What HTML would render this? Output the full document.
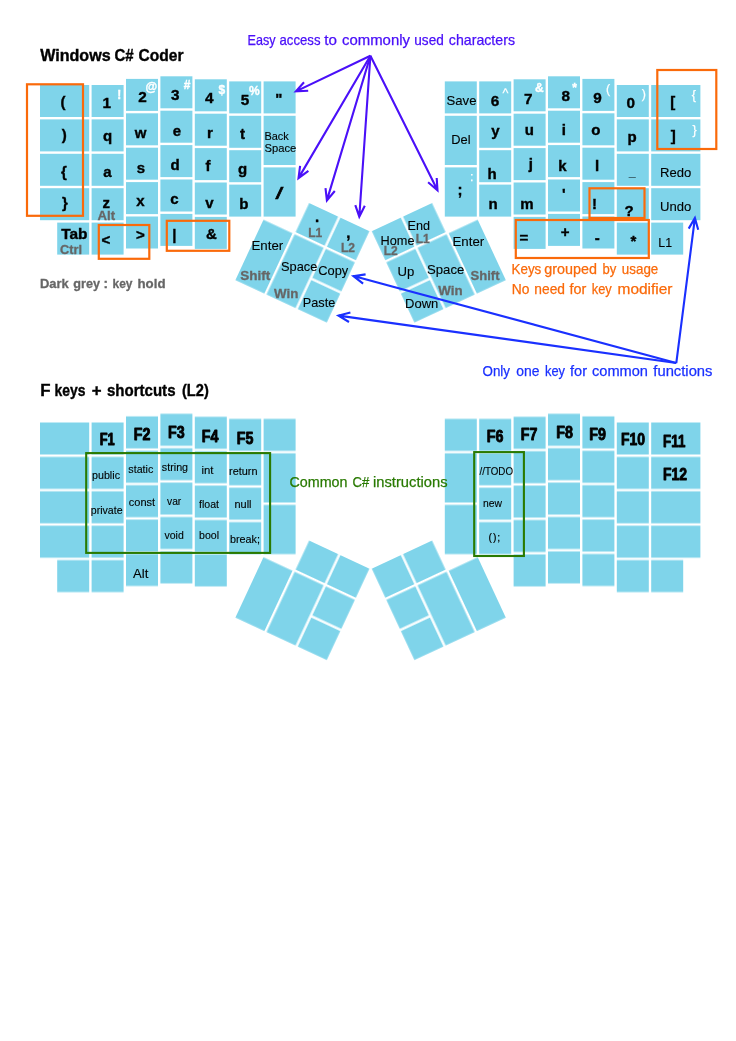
<!DOCTYPE html>
<html lang="en"><head><meta charset="utf-8"><title>Windows C# Coder keyboard layout</title>
<style>
html,body{margin:0;padding:0;background:#fff}
body{width:736px;height:1041px;overflow:hidden}
svg{display:block}
svg text{font-family:"Liberation Sans",sans-serif}
</style></head><body>
<svg width="736" height="1041" viewBox="0 0 736 1041">
<rect width="736" height="1041" fill="#fff"/>
<g opacity="0.999">
<g fill="#7fd4ea" transform="translate(0,0)">
<rect x="40.00" y="85.00" width="49.20" height="32.00"/>
<rect x="40.00" y="119.40" width="49.20" height="32.00"/>
<rect x="40.00" y="153.80" width="49.20" height="32.00"/>
<rect x="40.00" y="188.20" width="49.20" height="32.00"/>
<rect x="57.20" y="222.60" width="32.00" height="32.00"/>
<rect x="91.60" y="85.00" width="32.00" height="32.00"/>
<rect x="91.60" y="119.40" width="32.00" height="32.00"/>
<rect x="91.60" y="153.80" width="32.00" height="32.00"/>
<rect x="91.60" y="188.20" width="32.00" height="32.00"/>
<rect x="91.60" y="222.60" width="32.00" height="32.00"/>
<rect x="126.00" y="78.90" width="32.00" height="32.00"/>
<rect x="126.00" y="113.30" width="32.00" height="32.00"/>
<rect x="126.00" y="147.70" width="32.00" height="32.00"/>
<rect x="126.00" y="182.10" width="32.00" height="32.00"/>
<rect x="126.00" y="216.50" width="32.00" height="32.00"/>
<rect x="160.40" y="76.30" width="32.00" height="32.00"/>
<rect x="160.40" y="110.70" width="32.00" height="32.00"/>
<rect x="160.40" y="145.10" width="32.00" height="32.00"/>
<rect x="160.40" y="179.50" width="32.00" height="32.00"/>
<rect x="160.40" y="213.90" width="32.00" height="32.00"/>
<rect x="194.80" y="79.30" width="32.00" height="32.00"/>
<rect x="194.80" y="113.70" width="32.00" height="32.00"/>
<rect x="194.80" y="148.10" width="32.00" height="32.00"/>
<rect x="194.80" y="182.50" width="32.00" height="32.00"/>
<rect x="194.80" y="216.90" width="32.00" height="32.00"/>
<rect x="229.20" y="81.40" width="32.00" height="32.00"/>
<rect x="229.20" y="115.80" width="32.00" height="32.00"/>
<rect x="229.20" y="150.20" width="32.00" height="32.00"/>
<rect x="229.20" y="184.60" width="32.00" height="32.00"/>
<rect x="263.60" y="81.40" width="32.00" height="32.00"/>
<rect x="263.60" y="115.80" width="32.00" height="49.20"/>
<rect x="263.60" y="167.40" width="32.00" height="49.20"/>
<g transform="translate(278.0,188.6) rotate(25)">
<rect x="34.40" y="0.00" width="32.00" height="32.00"/>
<rect x="68.80" y="0.00" width="32.00" height="32.00"/>
<rect x="0.00" y="34.40" width="32.00" height="66.40"/>
<rect x="34.40" y="34.40" width="32.00" height="66.40"/>
<rect x="68.80" y="34.40" width="32.00" height="32.00"/>
<rect x="68.80" y="68.80" width="32.00" height="32.00"/>
</g>
<rect x="651.20" y="85.00" width="49.20" height="32.00"/>
<rect x="651.20" y="119.40" width="49.20" height="32.00"/>
<rect x="651.20" y="153.80" width="49.20" height="32.00"/>
<rect x="651.20" y="188.20" width="49.20" height="32.00"/>
<rect x="651.20" y="222.60" width="32.00" height="32.00"/>
<rect x="616.80" y="85.00" width="32.00" height="32.00"/>
<rect x="616.80" y="119.40" width="32.00" height="32.00"/>
<rect x="616.80" y="153.80" width="32.00" height="32.00"/>
<rect x="616.80" y="188.20" width="32.00" height="32.00"/>
<rect x="616.80" y="222.60" width="32.00" height="32.00"/>
<rect x="582.40" y="78.90" width="32.00" height="32.00"/>
<rect x="582.40" y="113.30" width="32.00" height="32.00"/>
<rect x="582.40" y="147.70" width="32.00" height="32.00"/>
<rect x="582.40" y="182.10" width="32.00" height="32.00"/>
<rect x="582.40" y="216.50" width="32.00" height="32.00"/>
<rect x="548.00" y="76.30" width="32.00" height="32.00"/>
<rect x="548.00" y="110.70" width="32.00" height="32.00"/>
<rect x="548.00" y="145.10" width="32.00" height="32.00"/>
<rect x="548.00" y="179.50" width="32.00" height="32.00"/>
<rect x="548.00" y="213.90" width="32.00" height="32.00"/>
<rect x="513.60" y="79.30" width="32.00" height="32.00"/>
<rect x="513.60" y="113.70" width="32.00" height="32.00"/>
<rect x="513.60" y="148.10" width="32.00" height="32.00"/>
<rect x="513.60" y="182.50" width="32.00" height="32.00"/>
<rect x="513.60" y="216.90" width="32.00" height="32.00"/>
<rect x="479.20" y="81.40" width="32.00" height="32.00"/>
<rect x="479.20" y="115.80" width="32.00" height="32.00"/>
<rect x="479.20" y="150.20" width="32.00" height="32.00"/>
<rect x="479.20" y="184.60" width="32.00" height="32.00"/>
<rect x="444.80" y="81.40" width="32.00" height="32.00"/>
<rect x="444.80" y="115.80" width="32.00" height="49.20"/>
<rect x="444.80" y="167.40" width="32.00" height="49.20"/>
<g transform="translate(463.20,188.6) rotate(-25) scale(-1,1)">
<rect x="34.40" y="0.00" width="32.00" height="32.00"/>
<rect x="68.80" y="0.00" width="32.00" height="32.00"/>
<rect x="0.00" y="34.40" width="32.00" height="66.40"/>
<rect x="34.40" y="34.40" width="32.00" height="66.40"/>
<rect x="68.80" y="34.40" width="32.00" height="32.00"/>
<rect x="68.80" y="68.80" width="32.00" height="32.00"/>
</g>
</g>
<g fill="#7fd4ea" transform="translate(0,337.5)">
<rect x="40.00" y="85.00" width="49.20" height="32.00"/>
<rect x="40.00" y="119.40" width="49.20" height="32.00"/>
<rect x="40.00" y="153.80" width="49.20" height="32.00"/>
<rect x="40.00" y="188.20" width="49.20" height="32.00"/>
<rect x="57.20" y="222.60" width="32.00" height="32.00"/>
<rect x="91.60" y="85.00" width="32.00" height="32.00"/>
<rect x="91.60" y="119.40" width="32.00" height="32.00"/>
<rect x="91.60" y="153.80" width="32.00" height="32.00"/>
<rect x="91.60" y="188.20" width="32.00" height="32.00"/>
<rect x="91.60" y="222.60" width="32.00" height="32.00"/>
<rect x="126.00" y="78.90" width="32.00" height="32.00"/>
<rect x="126.00" y="113.30" width="32.00" height="32.00"/>
<rect x="126.00" y="147.70" width="32.00" height="32.00"/>
<rect x="126.00" y="182.10" width="32.00" height="32.00"/>
<rect x="126.00" y="216.50" width="32.00" height="32.00"/>
<rect x="160.40" y="76.30" width="32.00" height="32.00"/>
<rect x="160.40" y="110.70" width="32.00" height="32.00"/>
<rect x="160.40" y="145.10" width="32.00" height="32.00"/>
<rect x="160.40" y="179.50" width="32.00" height="32.00"/>
<rect x="160.40" y="213.90" width="32.00" height="32.00"/>
<rect x="194.80" y="79.30" width="32.00" height="32.00"/>
<rect x="194.80" y="113.70" width="32.00" height="32.00"/>
<rect x="194.80" y="148.10" width="32.00" height="32.00"/>
<rect x="194.80" y="182.50" width="32.00" height="32.00"/>
<rect x="194.80" y="216.90" width="32.00" height="32.00"/>
<rect x="229.20" y="81.40" width="32.00" height="32.00"/>
<rect x="229.20" y="115.80" width="32.00" height="32.00"/>
<rect x="229.20" y="150.20" width="32.00" height="32.00"/>
<rect x="229.20" y="184.60" width="32.00" height="32.00"/>
<rect x="263.60" y="81.40" width="32.00" height="32.00"/>
<rect x="263.60" y="115.80" width="32.00" height="49.20"/>
<rect x="263.60" y="167.40" width="32.00" height="49.20"/>
<g transform="translate(278.0,188.6) rotate(25)">
<rect x="34.40" y="0.00" width="32.00" height="32.00"/>
<rect x="68.80" y="0.00" width="32.00" height="32.00"/>
<rect x="0.00" y="34.40" width="32.00" height="66.40"/>
<rect x="34.40" y="34.40" width="32.00" height="66.40"/>
<rect x="68.80" y="34.40" width="32.00" height="32.00"/>
<rect x="68.80" y="68.80" width="32.00" height="32.00"/>
</g>
<rect x="651.20" y="85.00" width="49.20" height="32.00"/>
<rect x="651.20" y="119.40" width="49.20" height="32.00"/>
<rect x="651.20" y="153.80" width="49.20" height="32.00"/>
<rect x="651.20" y="188.20" width="49.20" height="32.00"/>
<rect x="651.20" y="222.60" width="32.00" height="32.00"/>
<rect x="616.80" y="85.00" width="32.00" height="32.00"/>
<rect x="616.80" y="119.40" width="32.00" height="32.00"/>
<rect x="616.80" y="153.80" width="32.00" height="32.00"/>
<rect x="616.80" y="188.20" width="32.00" height="32.00"/>
<rect x="616.80" y="222.60" width="32.00" height="32.00"/>
<rect x="582.40" y="78.90" width="32.00" height="32.00"/>
<rect x="582.40" y="113.30" width="32.00" height="32.00"/>
<rect x="582.40" y="147.70" width="32.00" height="32.00"/>
<rect x="582.40" y="182.10" width="32.00" height="32.00"/>
<rect x="582.40" y="216.50" width="32.00" height="32.00"/>
<rect x="548.00" y="76.30" width="32.00" height="32.00"/>
<rect x="548.00" y="110.70" width="32.00" height="32.00"/>
<rect x="548.00" y="145.10" width="32.00" height="32.00"/>
<rect x="548.00" y="179.50" width="32.00" height="32.00"/>
<rect x="548.00" y="213.90" width="32.00" height="32.00"/>
<rect x="513.60" y="79.30" width="32.00" height="32.00"/>
<rect x="513.60" y="113.70" width="32.00" height="32.00"/>
<rect x="513.60" y="148.10" width="32.00" height="32.00"/>
<rect x="513.60" y="182.50" width="32.00" height="32.00"/>
<rect x="513.60" y="216.90" width="32.00" height="32.00"/>
<rect x="479.20" y="81.40" width="32.00" height="32.00"/>
<rect x="479.20" y="115.80" width="32.00" height="32.00"/>
<rect x="479.20" y="150.20" width="32.00" height="32.00"/>
<rect x="479.20" y="184.60" width="32.00" height="32.00"/>
<rect x="444.80" y="81.40" width="32.00" height="32.00"/>
<rect x="444.80" y="115.80" width="32.00" height="49.20"/>
<rect x="444.80" y="167.40" width="32.00" height="49.20"/>
<g transform="translate(463.20,188.6) rotate(-25) scale(-1,1)">
<rect x="34.40" y="0.00" width="32.00" height="32.00"/>
<rect x="68.80" y="0.00" width="32.00" height="32.00"/>
<rect x="0.00" y="34.40" width="32.00" height="66.40"/>
<rect x="34.40" y="34.40" width="32.00" height="66.40"/>
<rect x="68.80" y="34.40" width="32.00" height="32.00"/>
<rect x="68.80" y="68.80" width="32.00" height="32.00"/>
</g>
</g>
<text y="60.6" font-size="16.8" font-weight="bold" fill="#000" stroke="#000" stroke-width="0.4"><tspan x="40.2" textLength="70.4" lengthAdjust="spacingAndGlyphs">Windows</tspan> <tspan x="114.4" textLength="19.2" lengthAdjust="spacingAndGlyphs">C#</tspan> <tspan x="138.6" textLength="45.0" lengthAdjust="spacingAndGlyphs">Coder</tspan></text>
<text y="395.6" font-size="16.8" font-weight="bold" fill="#000" stroke="#000" stroke-width="0.4"><tspan x="40.3">F</tspan> <tspan x="54.5" textLength="31.0" lengthAdjust="spacingAndGlyphs">keys</tspan> <tspan x="91.8">+</tspan> <tspan x="107.0" textLength="68.5" lengthAdjust="spacingAndGlyphs">shortcuts</tspan> <tspan x="182.0" textLength="26.8" lengthAdjust="spacingAndGlyphs">(L2)</tspan></text>
<text y="287.5" font-size="13.4" font-weight="bold" fill="#666666" stroke="#666666" stroke-width="0.3"><tspan x="40.0" textLength="28.8" lengthAdjust="spacingAndGlyphs">Dark</tspan> <tspan x="73.3" textLength="26.7" lengthAdjust="spacingAndGlyphs">grey</tspan> <tspan x="103.6">:</tspan> <tspan x="112.5" textLength="20.0" lengthAdjust="spacingAndGlyphs">key</tspan> <tspan x="137.5" textLength="28.0" lengthAdjust="spacingAndGlyphs">hold</tspan></text>
<text y="45.3" font-size="14.3" fill="#4a10f8" stroke="#4a10f8" stroke-width="0.25"><tspan x="247.6" textLength="28.0" lengthAdjust="spacingAndGlyphs">Easy</tspan> <tspan x="279.5" textLength="41.0" lengthAdjust="spacingAndGlyphs">access</tspan> <tspan x="324.3" textLength="12.7" lengthAdjust="spacingAndGlyphs">to</tspan> <tspan x="342.0" textLength="68.0" lengthAdjust="spacingAndGlyphs">commonly</tspan> <tspan x="414.3" textLength="29.5" lengthAdjust="spacingAndGlyphs">used</tspan> <tspan x="448.8" textLength="66.2" lengthAdjust="spacingAndGlyphs">characters</tspan></text>
<text y="274.0" font-size="14.3" fill="#fa6a0a" stroke="#fa6a0a" stroke-width="0.25"><tspan x="511.5" textLength="29.8" lengthAdjust="spacingAndGlyphs">Keys</tspan> <tspan x="544.3" textLength="52.7" lengthAdjust="spacingAndGlyphs">grouped</tspan> <tspan x="602.5" textLength="13.8" lengthAdjust="spacingAndGlyphs">by</tspan> <tspan x="621.8" textLength="36.5" lengthAdjust="spacingAndGlyphs">usage</tspan></text>
<text y="293.5" font-size="14.3" fill="#fa6a0a" stroke="#fa6a0a" stroke-width="0.25"><tspan x="511.8" textLength="17.7" lengthAdjust="spacingAndGlyphs">No</tspan> <tspan x="534.3" textLength="30.7" lengthAdjust="spacingAndGlyphs">need</tspan> <tspan x="569.5" textLength="16.8" lengthAdjust="spacingAndGlyphs">for</tspan> <tspan x="591.8" textLength="20.0" lengthAdjust="spacingAndGlyphs">key</tspan> <tspan x="617.5" textLength="55.0" lengthAdjust="spacingAndGlyphs">modifier</tspan></text>
<text y="375.6" font-size="14.3" fill="#1a30ff" stroke="#1a30ff" stroke-width="0.25"><tspan x="482.5" textLength="27.5" lengthAdjust="spacingAndGlyphs">Only</tspan> <tspan x="516.3" textLength="23.2" lengthAdjust="spacingAndGlyphs">one</tspan> <tspan x="545.0" textLength="20.0" lengthAdjust="spacingAndGlyphs">key</tspan> <tspan x="570.0" textLength="17.0" lengthAdjust="spacingAndGlyphs">for</tspan> <tspan x="592.0" textLength="56.0" lengthAdjust="spacingAndGlyphs">common</tspan> <tspan x="653.3" textLength="59.2" lengthAdjust="spacingAndGlyphs">functions</tspan></text>
<text y="486.6" font-size="14.3" fill="#2a7a00" stroke="#2a7a00" stroke-width="0.25"><tspan x="289.5" textLength="58.0" lengthAdjust="spacingAndGlyphs">Common</tspan> <tspan x="352.5" textLength="16.8" lengthAdjust="spacingAndGlyphs">C#</tspan> <tspan x="373.0" textLength="74.5" lengthAdjust="spacingAndGlyphs">instructions</tspan></text>
<g font-size="15" font-weight="bold" text-anchor="middle" stroke="#000" stroke-width="0.38">
<text x="63" y="107">(</text>
<text x="64.2" y="140">)</text>
<text x="63.8" y="176.5">{</text>
<text x="65" y="207.5">}</text>
<text x="106.8" y="107.5" font-size="15.3">1</text>
<text x="107.5" y="140.5">q</text>
<text x="107.5" y="177">a</text>
<text x="106.3" y="207.5">z</text>
<text x="105.8" y="245">&lt;</text>
<text x="142.5" y="102" font-size="15.3">2</text>
<text x="140.5" y="138">w</text>
<text x="140.8" y="172.5">s</text>
<text x="140.5" y="205.8">x</text>
<text x="140.5" y="240">&gt;</text>
<text x="175.3" y="100" font-size="15.3">3</text>
<text x="176.8" y="135.5">e</text>
<text x="175" y="169.5">d</text>
<text x="174.3" y="203.8">c</text>
<text x="174.3" y="239.5">|</text>
<text x="209.3" y="103.3" font-size="15.3">4</text>
<text x="210" y="138">r</text>
<text x="208" y="171.3">f</text>
<text x="209.3" y="207.5">v</text>
<text x="211.3" y="239.3">&amp;</text>
<text x="245" y="105" font-size="15.3">5</text>
<text x="242.5" y="138.8">t</text>
<text x="242.5" y="174.2">g</text>
<text x="243.8" y="208.8">b</text>
<text x="278.8" y="104">&quot;</text>
<text x="317" y="222">.</text>
<text x="348.3" y="238">,</text>
<text x="495" y="105.5" font-size="15.3">6</text>
<text x="495.5" y="135.8">y</text>
<text x="492" y="179.4">h</text>
<text x="493" y="208.8">n</text>
<text x="528.3" y="103.8" font-size="15.3">7</text>
<text x="529.3" y="134.5">u</text>
<text x="530.8" y="168.8">j</text>
<text x="527" y="208.8">m</text>
<text x="523.8" y="242.9">=</text>
<text x="565.8" y="101.3" font-size="15.3">8</text>
<text x="563.8" y="135">i</text>
<text x="562.5" y="170.8">k</text>
<text x="563.8" y="199">&#x27;</text>
<text x="565.2" y="237">+</text>
<text x="597.5" y="103" font-size="15.3">9</text>
<text x="595.8" y="135">o</text>
<text x="597" y="171.3">l</text>
<text x="594.4" y="209">!</text>
<text x="597.3" y="243">-</text>
<text x="630.8" y="108" font-size="15.3">0</text>
<text x="632" y="142">p</text>
<text x="629" y="216.3">?</text>
<text x="633.3" y="246">*</text>
<text x="672.8" y="107">[</text>
<text x="673.3" y="141">]</text>
<text x="460" y="195">;</text>
<text x="74.4" y="239.3" textLength="26.3" lengthAdjust="spacingAndGlyphs">Tab</text>
<text x="107.2" y="445" font-size="16" stroke-width="0.9" stroke-linejoin="round" textLength="15.0" lengthAdjust="spacingAndGlyphs">F1</text>
<text x="142" y="439.5" font-size="16" stroke-width="0.9" stroke-linejoin="round" textLength="16.6" lengthAdjust="spacingAndGlyphs">F2</text>
<text x="176.3" y="437.5" font-size="16" stroke-width="0.9" stroke-linejoin="round" textLength="16.6" lengthAdjust="spacingAndGlyphs">F3</text>
<text x="210" y="441.5" font-size="16" stroke-width="0.9" stroke-linejoin="round" textLength="16.6" lengthAdjust="spacingAndGlyphs">F4</text>
<text x="245" y="443.5" font-size="16" stroke-width="0.9" stroke-linejoin="round" textLength="16.6" lengthAdjust="spacingAndGlyphs">F5</text>
<text x="495" y="441.7" font-size="16" stroke-width="0.9" stroke-linejoin="round" textLength="16.6" lengthAdjust="spacingAndGlyphs">F6</text>
<text x="529" y="440" font-size="16" stroke-width="0.9" stroke-linejoin="round" textLength="16.6" lengthAdjust="spacingAndGlyphs">F7</text>
<text x="564.5" y="437.5" font-size="16" stroke-width="0.9" stroke-linejoin="round" textLength="16.6" lengthAdjust="spacingAndGlyphs">F8</text>
<text x="597.5" y="440" font-size="16" stroke-width="0.9" stroke-linejoin="round" textLength="16.6" lengthAdjust="spacingAndGlyphs">F9</text>
<text x="633" y="445.4" font-size="16" stroke-width="0.9" stroke-linejoin="round" textLength="24" lengthAdjust="spacingAndGlyphs">F10</text>
<text x="674.2" y="446.9" font-size="16" stroke-width="0.9" stroke-linejoin="round" textLength="22.2" lengthAdjust="spacingAndGlyphs">F11</text>
<text x="675.1" y="480" font-size="16" stroke-width="0.9" stroke-linejoin="round" textLength="24" lengthAdjust="spacingAndGlyphs">F12</text>
</g>
<text x="279.5" y="198.6" font-size="16" text-anchor="middle" stroke="#000" stroke-width="0.5" textLength="7.8" lengthAdjust="spacingAndGlyphs">/</text>
<text x="632.2" y="176" font-size="12.5" font-weight="bold" text-anchor="middle">_</text>
<g font-size="12" font-weight="bold" fill="#fff" stroke="#fff" stroke-width="0.35" text-anchor="middle">
<text x="119.3" y="98.8">!</text>
<text x="151.3" y="90.8">@</text>
<text x="187" y="88.8">#</text>
<text x="221.8" y="93.5">$</text>
<text x="254.3" y="94.5">%</text>
<text x="505.5" y="97" font-weight="normal" stroke-width="0.25" font-size="12.5">^</text>
<text x="539.3" y="92">&amp;</text>
<text x="574.5" y="92">*</text>
<text x="608" y="93" font-weight="normal" stroke-width="0.25" font-size="12.5">(</text>
<text x="643.8" y="98" font-weight="normal" stroke-width="0.25" font-size="12.5">)</text>
<text x="693.8" y="98.5" font-weight="normal" stroke-width="0.25" font-size="12.5">{</text>
<text x="694.5" y="133.5" font-weight="normal" stroke-width="0.25" font-size="12.5">}</text>
<text x="471.8" y="181.3" font-weight="normal" stroke-width="0.25" font-size="12.5">:</text>
</g>
<g font-size="12.7" font-weight="bold" fill="#666666" stroke="#666666" stroke-width="0.3" text-anchor="middle">
<text x="106.3" y="220" textLength="17.5" lengthAdjust="spacingAndGlyphs">Alt</text>
<text x="71" y="253.8" textLength="22" lengthAdjust="spacingAndGlyphs">Ctrl</text>
<text x="315.3" y="237.3" font-size="12">L1</text>
<text x="348" y="252.3" font-size="12">L2</text>
<text x="255.3" y="279.5" textLength="30" lengthAdjust="spacingAndGlyphs">Shift</text>
<text x="286.2" y="297.5" textLength="24.3" lengthAdjust="spacingAndGlyphs">Win</text>
<text x="422.8" y="242.5" font-size="12">L1</text>
<text x="390.8" y="255" font-size="12">L2</text>
<text x="485" y="279.5" textLength="29" lengthAdjust="spacingAndGlyphs">Shift</text>
<text x="450.4" y="295" textLength="24.3" lengthAdjust="spacingAndGlyphs">Win</text>
</g>
<g stroke="#000" stroke-width="0.12">
<text x="264.5" y="139.9" font-size="11.2" textLength="24.3" lengthAdjust="spacingAndGlyphs">Back</text>
<text x="264.5" y="152" font-size="11.2" textLength="31.8" lengthAdjust="spacingAndGlyphs">Space</text>
<text x="251.5" y="250" font-size="13.3" textLength="31.8" lengthAdjust="spacingAndGlyphs">Enter</text>
<text x="281" y="270.5" font-size="13.3" textLength="36.3" lengthAdjust="spacingAndGlyphs">Space</text>
<text x="318.3" y="275" font-size="13.3" textLength="30" lengthAdjust="spacingAndGlyphs">Copy</text>
<text x="302.8" y="307" font-size="13.3" textLength="32.5" lengthAdjust="spacingAndGlyphs">Paste</text>
<text x="407.5" y="229.5" font-size="13.3" textLength="22.5" lengthAdjust="spacingAndGlyphs">End</text>
<text x="380.5" y="245" font-size="13.3" textLength="34" lengthAdjust="spacingAndGlyphs">Home</text>
<text x="452.5" y="246.3" font-size="13.3" textLength="31.8" lengthAdjust="spacingAndGlyphs">Enter</text>
<text x="397.5" y="276.3" font-size="13.3" textLength="16.8" lengthAdjust="spacingAndGlyphs">Up</text>
<text x="427" y="273.8" font-size="13.3" textLength="37.3" lengthAdjust="spacingAndGlyphs">Space</text>
<text x="405" y="307.5" font-size="13.3" textLength="33.3" lengthAdjust="spacingAndGlyphs">Down</text>
<text x="446.5" y="105" font-size="13.3" textLength="30" lengthAdjust="spacingAndGlyphs">Save</text>
<text x="451.3" y="144.2" font-size="13.3" textLength="19.3" lengthAdjust="spacingAndGlyphs">Del</text>
<text x="660" y="177" font-size="13.3" textLength="31.3" lengthAdjust="spacingAndGlyphs">Redo</text>
<text x="660" y="210.5" font-size="13.3" textLength="31.3" lengthAdjust="spacingAndGlyphs">Undo</text>
<text x="658.3" y="247" font-size="13.3" textLength="13.8" lengthAdjust="spacingAndGlyphs">L1</text>
<text x="133" y="578" font-size="13.3" textLength="15.3" lengthAdjust="spacingAndGlyphs">Alt</text>
<text x="92" y="478.8" font-size="10.7" textLength="28" lengthAdjust="spacingAndGlyphs">public</text>
<text x="128.3" y="472.5" font-size="10.7" textLength="25" lengthAdjust="spacingAndGlyphs">static</text>
<text x="161.8" y="471.3" font-size="10.7" textLength="26.3" lengthAdjust="spacingAndGlyphs">string</text>
<text x="90.8" y="513.8" font-size="10.7" textLength="31.8" lengthAdjust="spacingAndGlyphs">private</text>
<text x="128.8" y="505.8" font-size="10.7" textLength="26.3" lengthAdjust="spacingAndGlyphs">const</text>
<text x="167" y="504.5" font-size="10.7" textLength="14.3" lengthAdjust="spacingAndGlyphs">var</text>
<text x="164.5" y="538.8" font-size="10.7" textLength="19.3" lengthAdjust="spacingAndGlyphs">void</text>
<text x="201.5" y="474" font-size="10.7" textLength="12" lengthAdjust="spacingAndGlyphs">int</text>
<text x="199" y="507.5" font-size="10.7" textLength="20" lengthAdjust="spacingAndGlyphs">float</text>
<text x="199" y="539" font-size="10.7" textLength="20" lengthAdjust="spacingAndGlyphs">bool</text>
<text x="229" y="475" font-size="10.7" textLength="28.5" lengthAdjust="spacingAndGlyphs">return</text>
<text x="234.5" y="507.5" font-size="10.7" textLength="17" lengthAdjust="spacingAndGlyphs">null</text>
<text x="230" y="542.5" font-size="10.7" textLength="30" lengthAdjust="spacingAndGlyphs">break;</text>
<text x="479.5" y="475" font-size="10.7" textLength="33.5" lengthAdjust="spacingAndGlyphs">//TODO</text>
<text x="483" y="506.6" font-size="10.7" textLength="19" lengthAdjust="spacingAndGlyphs">new</text>
</g>
<text x="488.6" y="541" font-size="10.4" letter-spacing="0.9" stroke="#000" stroke-width="0.2">();</text>
<g fill="none" stroke="#fa6a0a" stroke-width="2.2">
<rect x="27.00" y="84.30" width="56.00" height="131.50"/>
<rect x="98.80" y="225.00" width="50.50" height="33.80"/>
<rect x="166.80" y="220.80" width="62.50" height="30.00"/>
<rect x="657.30" y="70.00" width="59.00" height="79.00"/>
<rect x="589.50" y="188.30" width="55.00" height="29.70"/>
<rect x="515.80" y="220.00" width="133.00" height="38.00"/>
</g>
<g fill="none" stroke="#2a7a00" stroke-width="2.1">
<rect x="86.20" y="453.10" width="183.90" height="99.80"/>
<rect x="474.20" y="452.10" width="49.70" height="103.90"/>
</g>
<g fill="none" stroke="#4a10f8" stroke-width="2.1" stroke-linejoin="miter">
<path d="M370.4 55.8L295.9 91.4M304.0 82.2L295.9 91.4L308.2 90.8"/>
<path d="M370.4 55.8L298.5 178.1M300.1 165.9L298.5 178.1L308.4 170.8"/>
<path d="M370.4 55.8L326.9 200.4M325.5 188.2L326.9 200.4L334.8 191.0"/>
<path d="M370.4 55.8L359.3 216.7M355.3 205.1L359.3 216.7L364.8 205.7"/>
<path d="M370.4 55.8L437.5 190.3M428.1 182.3L437.5 190.3L436.7 178.0"/>
</g>
<g fill="none" stroke="#1a30ff" stroke-width="2.1" stroke-linejoin="miter">
<path d="M676.3 363L694.9 218.0M698.2 229.8L694.9 218.0L688.7 228.6"/>
<path d="M676.3 363L353.5 276.1M365.6 274.4L353.5 276.1L363.1 283.6"/>
<path d="M676.3 363L338.5 315.6M350.4 312.5L338.5 315.6L349.0 322.0"/>
</g>
</g>
</svg>
</body></html>
